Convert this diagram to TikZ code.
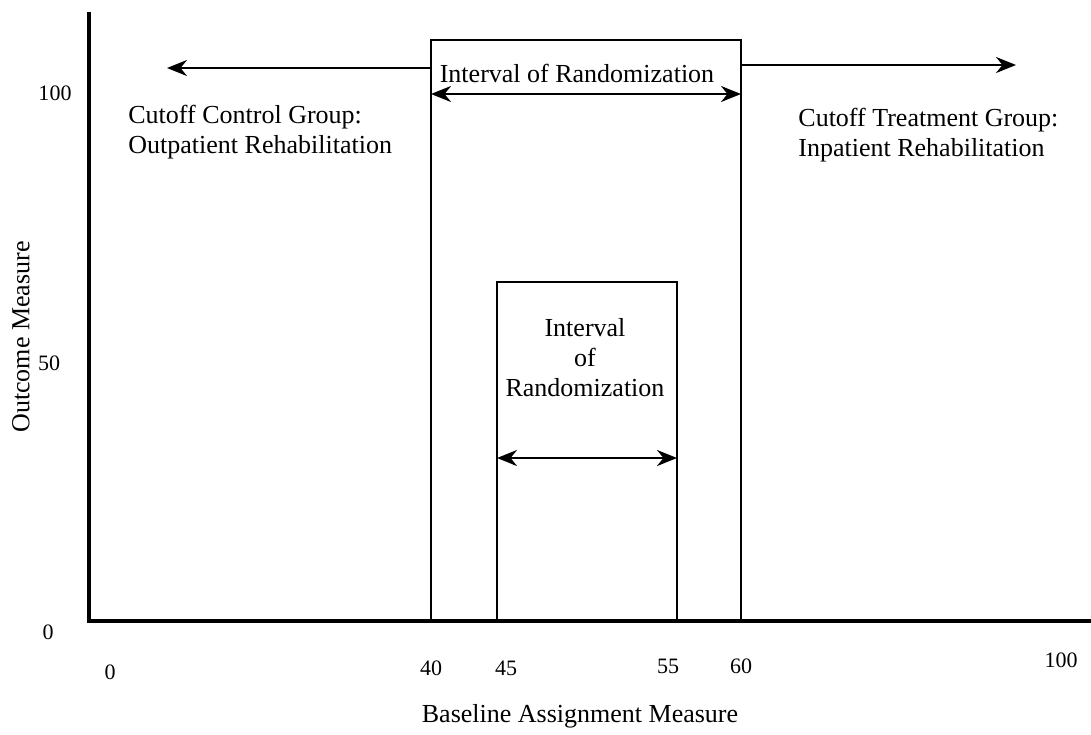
\documentclass[tikz,border=0pt]{standalone}
\usepackage{fontspec}
\setmainfont{Liberation Serif}
\usetikzlibrary{arrows.meta,positioning,calc}

\begin{document}
\begin{tikzpicture}[
    x=0.5pt, y=-0.5pt,
    axis/.style={line width=1.8pt},
    frame/.style={line width=1.4pt},
    label/.style={font=\fontsize{13}{15}\selectfont, inner sep=0pt},
    tick/.style={font=\fontsize{11}{13}\selectfont, inner sep=0pt},
    arrow/.style={-{Stealth[length=10pt,width=8pt]}, line width=1.3pt},
    dblarrow/.style={{Stealth[length=10pt,width=8pt]}-{Stealth[length=10pt,width=8pt]}, line width=1.3pt}
]
    \useasboundingbox (0,0) rectangle (1091,734);

    % Axes
    \coordinate (ytop) at (89,12);
    \coordinate (origin) at (89,621);
    \coordinate (xend) at (1091,621);
    \draw[axis] (ytop) -- (origin) -- (xend);

    % Outer box: 40 to 60
    \coordinate (outerBL) at (431,621);
    \coordinate (outerTL) at (431,40);
    \coordinate (outerTR) at (741,40);
    \coordinate (outerBR) at (741,621);
    \draw[frame] (outerBL) -- (outerTL) -- (outerTR) -- (outerBR);
    \node[label] (outertext) at (577,73) {Interval of Randomization};
    \coordinate (outerAL) at (431,94);
    \coordinate (outerAR) at (741,94);
    \draw[dblarrow] (outerAL) -- (outerAR);

    % Inner box: 45 to 55
    \coordinate (innerBL) at (497,621);
    \coordinate (innerTL) at (497,282);
    \coordinate (innerTR) at (677,282);
    \coordinate (innerBR) at (677,621);
    \draw[frame] (innerBL) -- (innerTL) -- (innerTR) -- (innerBR);
    \node[label, align=center] (innertext) at (585,358) {Interval\\of\\Randomization};
    \coordinate (innerAL) at (497,458);
    \coordinate (innerAR) at (677,458);
    \draw[dblarrow] (innerAL) -- (innerAR);

    % Group arrows
    \coordinate (ctrlstart) at (431,68);
    \coordinate (ctrlend) at (167,68);
    \coordinate (trtstart) at (741,65);
    \coordinate (trtend) at (1016,65);
    \draw[arrow] (ctrlstart) -- (ctrlend);
    \draw[arrow] (trtstart) -- (trtend);

    % Group labels
    \node[label, align=left, anchor=west] (control) at (128,132)
        {Cutoff Control Group:\\Outpatient Rehabilitation};
    \node[label, align=left, anchor=west] (treatment) at (798,135)
        {Cutoff Treatment Group:\\Inpatient Rehabilitation};

    % Y ticks
    \node[tick] (y100) at (55,93) {100};
    \node[tick] (y50) at (49,363) {50};
    \node[tick] (y0) at (48,632) {0};

    % X ticks
    \node[tick] (x0) at (110,672) {0};
    \node[tick] (x40) at (431,668) {40};
    \node[tick] (x45) at (506,668) {45};
    \node[tick] (x55) at (668,666) {55};
    \node[tick] (x60) at (741,666) {60};
    \node[tick] (x100) at (1061,660) {100};

    % Axis titles
    \node[label] (xtitle) at (580,716) {Baseline Assignment Measure};
    \node[label, rotate=90] (ytitle) at (21,337) {Outcome Measure};
\end{tikzpicture}
\end{document}
